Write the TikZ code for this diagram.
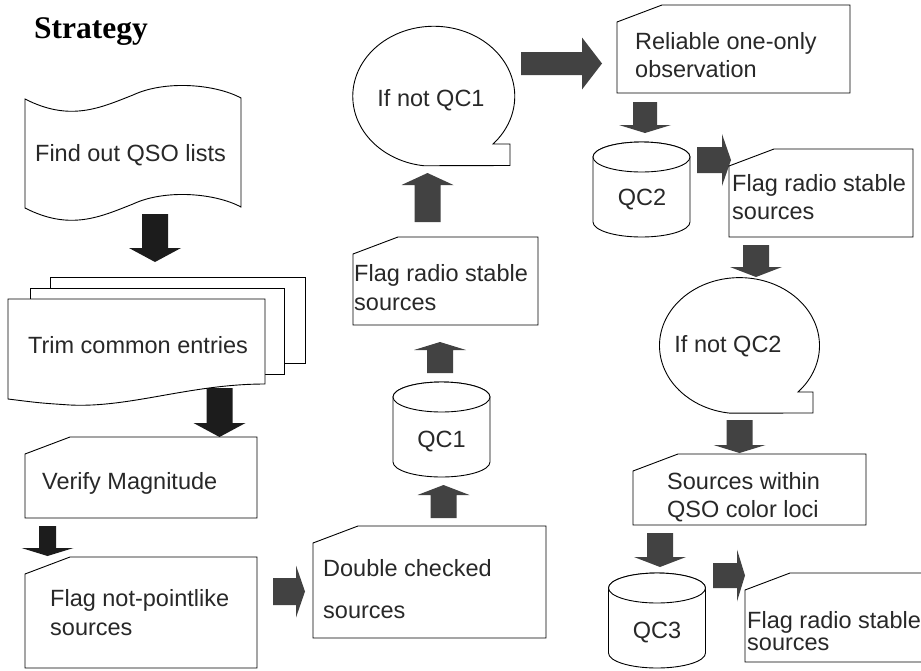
\documentclass[tikz,border=0pt]{standalone}
\usepackage{fontspec}
\setmainfont{Liberation Sans}
\newfontfamily\titlefont{Liberation Serif}
\usepackage{tikz}
\definecolor{arrowblack}{RGB}{28,28,28}
\definecolor{arrowgray}{RGB}{66,66,66}
\definecolor{labelgray}{RGB}{40,40,40}
\newcommand{\boxfont}{\fontsize{23.5}{28.5}\selectfont}
% block arrow: [half shaft]{colour}{angle}{(start)}{length}{head length}
\newcommand{\blockarrow}[6][13]{%
  \fill[#2, shift={#4}, rotate=#3] (0,-#1) -- ({#5-#6},-#1) -- ({#5-#6},-26)
    -- (#5,0) -- ({#5-#6},26) -- ({#5-#6},#1) -- (0,#1) -- cycle;}
% card with the top left corner cut off
\newcommand{\cardbox}[4]{%
  \draw[shapeline] ({#1+45},#2) -- (#3,#2) -- (#3,#4) -- (#1,#4) -- (#1,{#2+17}) -- cycle;}
% database drum
\newcommand{\drum}[3]{%
  \draw[shapeline] ({#1-48.5},#2) -- ({#1-48.5},#3)
    arc[start angle=180, end angle=0, x radius=48.5, y radius=15] -- ({#1+48.5},#2)
    arc[start angle=0, end angle=-180, x radius=48.5, y radius=15] -- cycle;
  \draw[shapeline] (#1,#2) ellipse[x radius=48.5, y radius=15];}

\begin{document}
\begin{tikzpicture}[x=1pt, y=-1pt,
  shapeline/.style={draw=black, line width=0.9pt, fill=white},
  lbl/.style={inner sep=0pt, font=\boxfont, text=labelgray, align=left}]
\clip (0,0) rectangle (921,670);

% arrows first, the boxes cover their tips
\blockarrow{arrowblack}{-90}{(155,214)}{48}{14}
\blockarrow{arrowblack}{-90}{(219.5,388)}{49}{14}
\blockarrow[8.5]{arrowblack}{-90}{(47.5,526)}{30}{8}
\blockarrow[13.5]{arrowgray}{0}{(273,591.5)}{32}{9}
\blockarrow{arrowgray}{90}{(443.5,518)}{33}{10}
\blockarrow{arrowgray}{90}{(440,373)}{31}{8}
\blockarrow{arrowgray}{90}{(427.5,222)}{49}{12}
\blockarrow[11.5]{arrowgray}{0}{(521,63.5)}{81}{20}
\blockarrow[12]{arrowgray}{-90}{(645,102)}{31}{8}
\blockarrow{arrowgray}{0}{(697,160)}{34}{9}
\blockarrow{arrowgray}{-90}{(756,245)}{32}{10}
\blockarrow{arrowgray}{-90}{(739.5,420)}{33}{8}
\blockarrow{arrowgray}{-90}{(660,533)}{34}{10}
\blockarrow[12.5]{arrowgray}{0}{(713,575.5)}{32}{8}

% left column
\node[anchor=base west, inner sep=0pt, font=\titlefont\bfseries\fontsize{31.5}{34}\selectfont]
  (title) at (34,38) {Strategy};

\draw[shapeline] (25,99) .. controls (70,122) and (100,108) .. (133,95)
  .. controls (165,80) and (215,84) .. (241,98) -- (241,207)
  .. controls (215,193) and (165,189) .. (133,204)
  .. controls (100,217) and (70,231) .. (25,208) -- cycle;
\node[lbl] (findlists) at (130.5,155) {Find out QSO lists};

\draw[shapeline] (50,277) rectangle (305,363);
\draw[shapeline] (30,288) rectangle (284,374);
\draw[shapeline] (8,299) -- (265,299) -- (265,384)
  .. controls (190,384) and (130,408) .. (70,405) .. controls (40,403) .. (8,399) -- cycle;
\node[lbl] (trimentries) at (138,345) {Trim common entries};

\cardbox{25}{437}{257}{518}
\node[lbl, anchor=west] (verifymag) at (42,483) {Verify Magnitude};

\cardbox{25}{557}{257}{668}
\node[lbl, anchor=west] (flagpoint) at (50,612.5) {Flag not-pointlike\\sources};

% middle column
\cardbox{313}{526}{546}{638}
\node[lbl, anchor=west] (doublecheck) at (323,589) {Double checked\\[13pt]sources};

\drum{441.5}{397}{462}
\node[lbl] (qcone) at (441.5,442) {QC1};

\cardbox{353}{237}{538}{325}
\node[lbl, anchor=west] (flagradioa) at (354,287.5) {Flag radio stable\\sources};

\draw[shapeline] (510,144) -- (493,144)
  arc[start angle=43, end angle=-263, x radius=81, y radius=70] -- (510,165.5) -- cycle;
\node[lbl] (ifnotqcone) at (431,100) {If not QC1};

% right column
\cardbox{617}{5}{850}{93}
\node[lbl, anchor=west] (reliable) at (635,55) {Reliable one-only\\observation};

\drum{641.5}{157}{222}
\node[lbl] (qctwo) at (642,200) {QC2};

\cardbox{729}{149}{913}{237}
\node[lbl, anchor=west] (flagradiob) at (732,197) {Flag radio stable\\sources};

\draw[shapeline] (813,392) -- (798,392)
  arc[start angle=43, end angle=-263, x radius=80, y radius=68] -- (813,413) -- cycle;
\node[lbl] (ifnotqctwo) at (728,346) {If not QC2};

\cardbox{633}{454}{866}{525}
\node[lbl, anchor=west] (withinloci) at (667,497) {Sources within\\QSO color loci};

\drum{657}{588}{653}
\node[lbl] (qcthree) at (657,633) {QC3};

\cardbox{745}{573}{960}{662}
\node[lbl, anchor=west] (flagradioc) at (747,631) {Flag radio stable\\[-6pt]sources};
\end{tikzpicture}
\end{document}
